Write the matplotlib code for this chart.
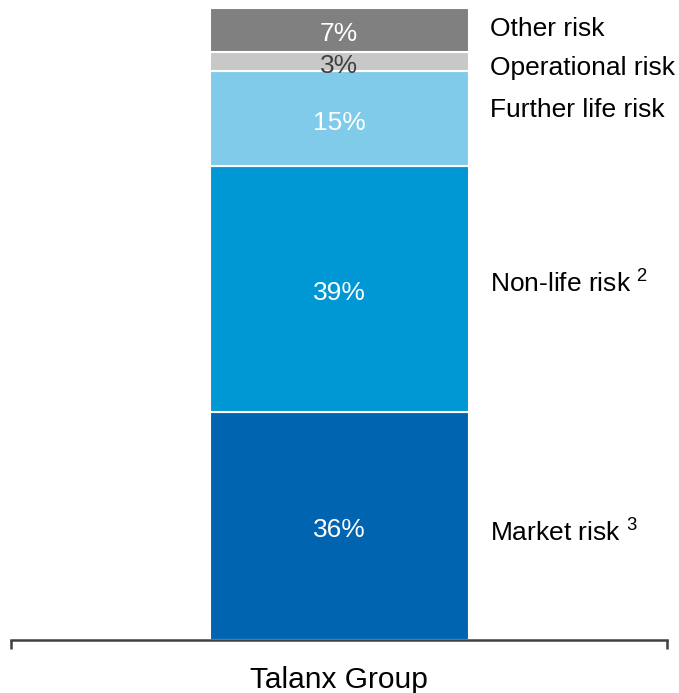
import matplotlib
matplotlib.use("Agg")
import matplotlib.pyplot as plt
import numpy as np

plt.rcParams['font.family'] = ['Liberation Sans', 'DejaVu Sans']
plt.rcParams['mathtext.fontset'] = 'custom'
plt.rcParams['mathtext.rm'] = 'Liberation Sans'
plt.rcParams['mathtext.it'] = 'Liberation Sans'
plt.rcParams['mathtext.default'] = 'rm'

# data, bottom to top
risks = ["Market risk", "Non-life risk", "Further life risk", "Operational risk", "Other risk"]
notes = ["3", "2", "", "", ""]
shares = [36, 39, 15, 3, 7]
colors = ["#0064B0", "#0098D4", "#80CBEA", "#C8C8C8", "#808080"]
pct_colors = ["white", "white", "white", "#404040", "white"]
group = "Talanx Group"

# small nudges (points) so the right-hand labels do not crowd
label_nudge = [-5, 3.5, 6, -4.5, 1]

fig = plt.figure(figsize=(6.79, 6.93), dpi=100)
ax = fig.add_axes([11/679, 1 - 640/693, 656/679, 632/693])

bottoms = np.concatenate([[0], np.cumsum(shares)[:-1]])
bar_w = 259 / 656
ax.bar(0, shares, bottom=bottoms, width=bar_w, color=colors,
       edgecolor="white", linewidth=1.5)

for s, b, c in zip(shares, bottoms, pct_colors):
    ax.annotate(f"{s}%", xy=(0, b + s / 2), xytext=(0, -3), textcoords="offset points",
                ha="center", va="center", color=c, fontsize=19)

x_lab = bar_w / 2 + 21 / 656
for name, note, s, b, dy in zip(risks, notes, shares, bottoms, label_nudge):
    txt = name + (r" $^{" + note + "}$" if note else "")
    ax.annotate(txt, xy=(x_lab, b + s / 2), xytext=(0, dy), textcoords="offset points",
                ha="left", va="center", fontsize=19, color="black")

ax.set_xlim(-0.5, 0.5)
ax.set_ylim(0, 100)
for sp in ["top", "left", "right"]:
    ax.spines[sp].set_visible(False)
ax.spines["bottom"].set_color("#404040")
ax.spines["bottom"].set_linewidth(1.8)
ax.set_yticks([])
ax.set_xticks([0])
ax.set_xticklabels([group], fontsize=21.5)
ax.tick_params(axis="x", length=0, pad=19)
# end ticks of the category axis
for xe in [-0.5, 0.5]:
    ax.plot([xe, xe], [0, -1.5], color="#404040", lw=1.8, clip_on=False,
            solid_capstyle="butt")

fig.savefig("out.png", dpi=100)
